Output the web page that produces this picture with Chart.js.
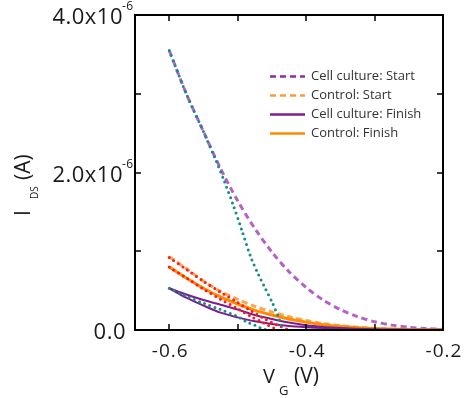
<!DOCTYPE html>
<html>
<head>
<meta charset="utf-8">
<script src="https://cdn.jsdelivr.net/npm/chart.js@4.4.1/dist/chart.umd.min.js"></script>
<style>
html,body{margin:0;padding:0;background:#fff;}
canvas{display:block;}
</style>
</head>
<body>
<canvas id="c" width="464" height="398"></canvas>
<script>
// ---- Data (V in volts, I in amperes) ----
const vGrid = [-0.6,-0.575,-0.55,-0.525,-0.5,-0.475,-0.45,-0.425,-0.4,-0.375,-0.35,-0.325,-0.3,-0.275,-0.25,-0.225,-0.2];
const cellStart    = [3.55e-6,3.0e-6,2.52e-6,2.05e-6,1.64e-6,1.29e-6,0.99e-6,0.74e-6,0.54e-6,0.38e-6,0.26e-6,0.17e-6,0.105e-6,0.062e-6,0.035e-6,0.018e-6,0.008e-6];
const controlStart = [0.93e-6,0.78e-6,0.62e-6,0.49e-6,0.39e-6,0.30e-6,0.23e-6,0.17e-6,0.12e-6,0.08e-6,0.055e-6,0.035e-6,0.022e-6,0.014e-6,0.008e-6,0.005e-6,0.003e-6];
const controlFinish= [0.80e-6,0.66e-6,0.53e-6,0.42e-6,0.33e-6,0.25e-6,0.19e-6,0.14e-6,0.10e-6,0.068e-6,0.045e-6,0.03e-6,0.018e-6,0.011e-6,0.006e-6,0.004e-6,0.002e-6];
const cellFinishFwd= [0.53e-6,0.45e-6,0.38e-6,0.32e-6,0.26e-6,0.19e-6,0.14e-6,0.095e-6,0.06e-6,0.038e-6,0.024e-6,0.016e-6,0.01e-6,0.006e-6,0.004e-6,0.003e-6,0.002e-6];
const cellFinishRev= [0.53e-6,0.41e-6,0.31e-6,0.22e-6,0.16e-6,0.11e-6,0.075e-6,0.05e-6,0.035e-6,0.024e-6,0.015e-6,0.01e-6,0.006e-6,0.004e-6,0.003e-6,0.002e-6,0.001e-6];
// fit lines (dotted)
const fitCellStartV = [-0.6,-0.575,-0.55,-0.533,-0.52,-0.507,-0.494,-0.481,-0.47,-0.461,-0.449,-0.439,-0.435];
const fitCellStartI = [3.55e-6,3.0e-6,2.52e-6,2.18e-6,1.90e-6,1.60e-6,1.27e-6,0.93e-6,0.71e-6,0.55e-6,0.34e-6,0.13e-6,0.0];
const fitCellFinishV = [-0.6,-0.575,-0.55,-0.525,-0.5,-0.486,-0.475,-0.466,-0.458];
const fitCellFinishI = [0.53e-6,0.43e-6,0.34e-6,0.26e-6,0.17e-6,0.10e-6,0.06e-6,0.025e-6,0.0];
const fitCtrlStartV = [-0.6,-0.575,-0.55,-0.525,-0.5,-0.48,-0.46,-0.44,-0.425];
const fitCtrlStartI = [0.92e-6,0.77e-6,0.62e-6,0.48e-6,0.35e-6,0.24e-6,0.14e-6,0.055e-6,0.0];
const fitCtrlFinishV = [-0.6,-0.575,-0.55,-0.525,-0.5,-0.48,-0.46,-0.442];
const fitCtrlFinishI = [0.80e-6,0.66e-6,0.52e-6,0.39e-6,0.27e-6,0.17e-6,0.08e-6,0.0];
// ticks
const xTicks = [-0.6,-0.5,-0.4,-0.3,-0.2];
const xLabels = ['-0.6','-0.4','-0.2'];
const xLabelValues = [-0.6,-0.4,-0.2];
const yTicks = [0,1e-6,2e-6,3e-6,4e-6];
const yLabelValues = [0,2e-6,4e-6];
const yLabelMain = ['0.0','2.0x10','4.0x10'];
const yLabelSup = ['','-6','-6'];
const legendItems = [
  ['Cell culture: Start','#8e2c9e',[6,4]],
  ['Control: Start','#ff9a3c',[6,4]],
  ['Cell culture: Finish','#7d1e8c',[]],
  ['Control: Finish','#ff8a00',[]]
];

const pts = (xs, ys) => xs.map((x,i)=>({x:x,y:ys[i]}));
const loop = (xs, a, b) => pts(xs,a).concat(pts(xs.slice().reverse(), b.slice().reverse()));

const FONT = '"Open Sans", sans-serif';

const deco = {
  id:'deco',
  afterDraw(chart){
    const ctx = chart.ctx, ca = chart.chartArea;
    const xs = chart.scales.x, ys = chart.scales.y;
    ctx.save();
    // frame
    ctx.strokeStyle = '#000'; ctx.lineWidth = 2;
    ctx.strokeRect(ca.left, ca.top, ca.right-ca.left, ca.bottom-ca.top);
    // ticks inward
    ctx.lineWidth = 1.5;
    const tl = 6;
    xTicks.forEach(v=>{
      const px = Math.round(xs.getPixelForValue(v));
      ctx.beginPath(); ctx.moveTo(px, ca.bottom); ctx.lineTo(px, ca.bottom-tl);
      ctx.moveTo(px, ca.top); ctx.lineTo(px, ca.top+tl); ctx.stroke();
    });
    yTicks.forEach(v=>{
      const py = Math.round(ys.getPixelForValue(v));
      ctx.beginPath(); ctx.moveTo(ca.left, py); ctx.lineTo(ca.left+tl, py);
      ctx.moveTo(ca.right, py); ctx.lineTo(ca.right-tl, py); ctx.stroke();
    });
    // x labels
    ctx.fillStyle = '#1a1a1a';
    ctx.font = '19px ' + FONT;
    ctx.letterSpacing = '1px';
    ctx.textAlign = 'center'; ctx.textBaseline = 'middle';
    xLabelValues.forEach((v,i)=>{
      ctx.fillText(xLabels[i], xs.getPixelForValue(v)+1, 352);
    });
    // y labels with superscripts
    ctx.letterSpacing = '0.5px';
    yLabelValues.forEach((v,i)=>{
      const py = ys.getPixelForValue(v) + 3;
      const main = yLabelMain[i], sup = yLabelSup[i];
      ctx.font = '22px ' + FONT;
      const wm = ctx.measureText(main).width;
      ctx.textAlign = 'left'; ctx.textBaseline = 'middle';
      const start = (sup ? 123 : 126) - wm;
      ctx.fillText(main, start, py);
      if (sup){ ctx.font = '12px ' + FONT; ctx.fillText(sup, 122, py-11); }
    });
    ctx.letterSpacing = '0px';
    // x title: V_G (V)
    ctx.textBaseline = 'alphabetic'; ctx.textAlign = 'left';
    ctx.font = '20px ' + FONT;
    ctx.fillText('V', 263, 383);
    ctx.font = '13px ' + FONT; ctx.fillText('G', 279, 395);
    ctx.font = '21px ' + FONT; ctx.fillText('(V)', 294, 383);
    // y title: I_DS (A), rotated
    ctx.save();
    ctx.translate(30, 0);
    ctx.rotate(-Math.PI/2);
    ctx.font = '21px ' + FONT;
    ctx.fillText('I', -216, 0);
    ctx.font = '10px ' + FONT; ctx.fillText('DS', -199, 8);
    ctx.font = '21px ' + FONT; ctx.fillText('(A)', -180, 0);
    ctx.restore();
    // legend
    ctx.textBaseline = 'middle'; ctx.textAlign = 'left';
    ctx.font = '13px ' + FONT;
    legendItems.forEach(([txt, col, dash], i)=>{
      const y = 76.5 + i*19;
      ctx.strokeStyle = col; ctx.lineWidth = 2.5; ctx.setLineDash(dash);
      ctx.beginPath(); ctx.moveTo(270, y); ctx.lineTo(305, y); ctx.stroke();
      ctx.setLineDash([]);
      ctx.fillStyle = '#333';
      ctx.fillText(txt, 311, y);
    });
    ctx.restore();
  }
};

const dotted = (col) => ({borderColor:col, borderWidth:3, borderDash:[0,5.5], borderCapStyle:'round', pointRadius:0, showLine:true, fill:false, tension:0.3});

new Chart(document.getElementById('c'), {
  type:'scatter',
  data:{ datasets:[
    Object.assign({label:'fit cell start', data:pts(fitCellStartV, fitCellStartI), order:0}, dotted('#168a8c')),
    Object.assign({label:'fit cell finish', data:pts(fitCellFinishV, fitCellFinishI), order:0}, dotted('#168a8c')),
    Object.assign({label:'fit control start', data:pts(fitCtrlStartV, fitCtrlStartI), order:0}, dotted('#ff1a1a')),
    Object.assign({label:'fit control finish', data:pts(fitCtrlFinishV, fitCtrlFinishI), order:0}, dotted('#ff1a1a')),
    {label:'Cell culture: Finish', data:loop(vGrid, cellFinishFwd, cellFinishRev), borderColor:'#7d1e8c', borderWidth:2, pointRadius:0, showLine:true, tension:0.3, order:1},
    {label:'Control: Finish', data:pts(vGrid, controlFinish), borderColor:'#ff8a00', borderWidth:3, pointRadius:0, showLine:true, tension:0.3, order:2},
    {label:'Control: Start', data:pts(vGrid, controlStart), borderColor:'#ffa54f', borderWidth:3, borderDash:[6,3.5], pointRadius:0, showLine:true, tension:0.3, order:3},
    {label:'Cell culture: Start', data:pts(vGrid, cellStart), borderColor:'#b463c4', borderWidth:3, borderDash:[6,4], pointRadius:0, showLine:true, tension:0.3, order:4}
  ]},
  options:{
    responsive:false, animation:false, devicePixelRatio:1,
    layout:{padding:{left:135, top:15, right:21, bottom:68}},
    plugins:{legend:{display:false}, tooltip:{enabled:false}},
    scales:{
      x:{type:'linear', min:-0.65, max:-0.2, display:false},
      y:{type:'linear', min:0, max:4e-6, display:false}
    }
  },
  plugins:[deco]
});
</script>
</body>
</html>
